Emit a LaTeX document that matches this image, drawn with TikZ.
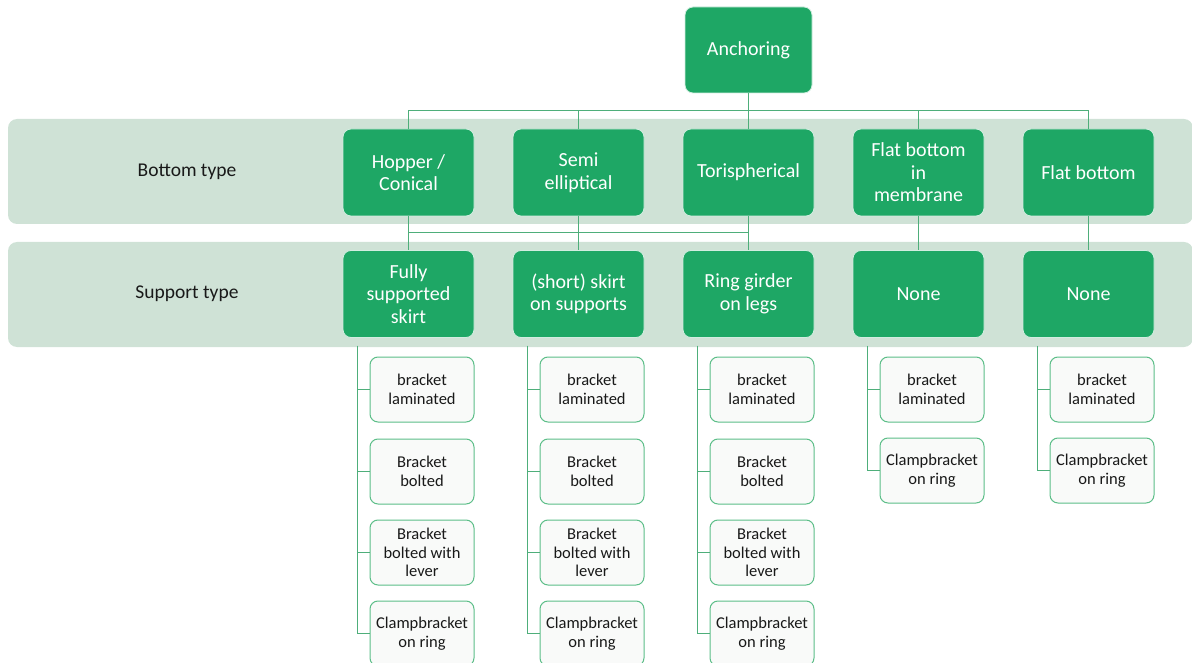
\documentclass[tikz,border=0pt]{standalone}
\usepackage{fontspec}
\setmainfont{Carlito}
\usetikzlibrary{calc}

\definecolor{boxgreen}{RGB}{30,167,101}
\definecolor{bandgreen}{RGB}{207,226,214}
\definecolor{linkgreen}{RGB}{78,174,122}
\definecolor{leafedge}{RGB}{92,190,136}
\definecolor{leaffill}{RGB}{249,250,249}
\definecolor{inktext}{RGB}{25,25,25}

\begin{document}
\begin{tikzpicture}[x=1pt,y=-1pt,
  mainbox/.style={rectangle, rounded corners=8pt, fill=boxgreen,
    draw=white!80!boxgreen, line width=0.8pt,
    minimum width=131pt, minimum height=87pt, inner sep=2pt,
    text=white, align=center, font=\fontsize{20}{22.5}\selectfont},
  leafbox/.style={rectangle, rounded corners=8pt, fill=leaffill,
    draw=leafedge, line width=1pt,
    minimum width=104pt, minimum height=65pt, inner sep=1pt,
    text=inktext, align=center, font=\fontsize{16.5}{18.7}\selectfont},
  band/.style={fill=bandgreen, rounded corners=9pt},
  rowlabel/.style={text=inktext, font=\fontsize{19.5}{22}\selectfont},
  link/.style={draw=linkgreen, line width=1pt}]

\clip (0,0) rectangle (1192,663);

% horizontal level bands
\fill[band] (8,119) rectangle (1193,224);
\fill[band] (8,242) rectangle (1193,347);

\node[rowlabel] (lbl1) at (187,172) {Bottom type};
\node[rowlabel] (lbl2) at (187,294) {Support type};

% root
\node[mainbox, minimum width=127pt, minimum height=86pt] (anch) at (748.5,50) {Anchoring};

% bottom types
\node[mainbox] (b1) at (408.5,172.5) {Hopper /\\Conical};
\node[mainbox] (b2) at (578.5,172.5) {Semi\\elliptical};
\node[mainbox] (b3) at (748.5,172.5) {Torispherical};
\node[mainbox] (b4) at (918.5,172.5) {Flat bottom\\in\\membrane};
\node[mainbox] (b5) at (1088.5,172.5) {Flat bottom};

% support types
\node[mainbox] (s1) at (408.5,294) {Fully\\supported\\skirt};
\node[mainbox] (s2) at (578.5,294) {(short) skirt\\on supports};
\node[mainbox] (s3) at (748.5,294) {Ring girder\\on legs};
\node[mainbox] (s4) at (918.5,294) {None};
\node[mainbox] (s5) at (1088.5,294) {None};

% anchoring methods
\foreach \c/\x in {1/408.5, 2/578.5, 3/748.5}{
  \node[leafbox] (l\c1) at (\x+13.5,389.5) {bracket\\laminated};
  \node[leafbox] (l\c2) at (\x+13.5,471.5) {Bracket\\bolted};
  \node[leafbox] (l\c3) at (\x+13.5,552.5) {Bracket\\bolted with\\lever};
  \node[leafbox] (l\c4) at (\x+13.5,633.5) {Clampbracket\\on ring};
}
\foreach \c/\x in {4/918.5, 5/1088.5}{
  \node[leafbox] (l\c1) at (\x+13.5,389.5) {bracket\\laminated};
  \node[leafbox] (l\c2) at (\x+13.5,470.5) {Clampbracket\\on ring};
}

% root to bottom types
\coordinate (bus1) at (0,111);
\draw[link] (anch.south) -- (anch.south |- bus1);
\draw[link] (b1.north) -- (b1.north |- bus1) -- (b5.north |- bus1) -- (b5.north);
\foreach \n in {b2,b3,b4}
  \draw[link] (\n.north) -- (\n.north |- bus1);

% bottom types to support types
\coordinate (bus2) at (0,232.5);
\foreach \n in {1,...,5}
  \draw[link] (b\n.south) -- (s\n.north);
\draw[link] (b1.south |- bus2) -- (b3.south |- bus2);

% support types to anchoring methods
\foreach \c/\last in {1/4, 2/4, 3/4, 4/2, 5/2}{
  \coordinate (h\c) at ($(s\c.south)+(-51,8)$);
  \foreach \k in {1,...,\last}
    \draw[link] (h\c) |- (l\c\k.west);
}
\end{tikzpicture}
\end{document}
